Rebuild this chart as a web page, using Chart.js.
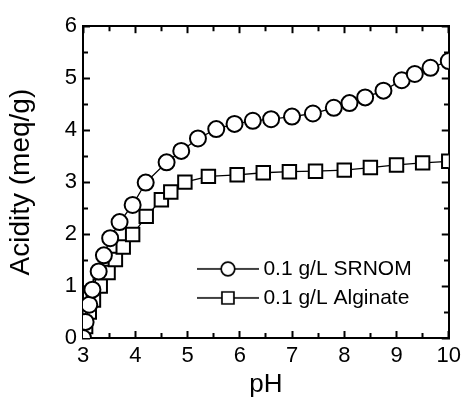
<!DOCTYPE html>
<html>
<head>
<meta charset="utf-8">
<script src="https://cdn.jsdelivr.net/npm/chart.js@4.4.1/dist/chart.umd.min.js"></script>
<style>
  html, body { margin: 0; padding: 0; background: #fff; }
  #wrap { width: 473px; height: 400px; }
</style>
</head>
<body>
<div id="wrap"><canvas id="acid"></canvas></div>
<script>
// SRNOM titration
var srnomPH   = [3.0, 3.05, 3.12, 3.18, 3.3, 3.4, 3.52, 3.7, 3.95, 4.2, 4.6, 4.88, 5.2, 5.55, 5.9, 6.25, 6.6, 7.0, 7.4, 7.8, 8.1, 8.4, 8.75, 9.1, 9.35, 9.65, 10.0];
var srnomAcid = [0, 0.31, 0.64, 0.93, 1.28, 1.59, 1.92, 2.23, 2.56, 2.99, 3.38, 3.60, 3.84, 4.02, 4.12, 4.18, 4.21, 4.26, 4.32, 4.43, 4.52, 4.63, 4.76, 4.96, 5.08, 5.20, 5.33];

// Alginate titration
var algPH   = [3.0, 3.05, 3.12, 3.2, 3.33, 3.48, 3.62, 3.77, 3.95, 4.21, 4.5, 4.68, 4.95, 5.4, 5.95, 6.45, 6.95, 7.45, 8.0, 8.5, 9.0, 9.5, 10.0];
var algAcid = [0.02, 0.22, 0.5, 0.73, 1.0, 1.26, 1.51, 1.75, 1.99, 2.34, 2.66, 2.81, 3.0, 3.11, 3.14, 3.18, 3.20, 3.21, 3.23, 3.28, 3.33, 3.37, 3.40];

var seriesNames = ['0.1 g/L SRNOM', '0.1 g/L Alginate'];
var xRange = [3, 10];
var yRange = [0, 6];
var legendAt = [5.18, 1.33]; // pH, acidity where legend line starts

var FONT = "'Liberation Sans', Arial, Helvetica, sans-serif";

function toPoints(xs, ys) {
    let out = [];
    for(let i=0; i<xs.length; i++) {
        out.push({x: xs[i], y: ys[i]});
    }
    return out;
}

function legendIcon(style) {
    let c = document.createElement('canvas');
    c.width = 62; c.height = 20;
    let g = c.getContext('2d');
    g.strokeStyle = '#000';
    g.lineWidth = 1.3;
    g.beginPath(); g.moveTo(0, 10); g.lineTo(62, 10); g.stroke();
    g.fillStyle = '#fff';
    g.lineWidth = 1.7;
    g.beginPath();
    if(style == 'circle') {
        g.arc(31, 10, 6.8, 0, Math.PI*2);
    }
    else {
        g.rect(25, 4, 12, 12);
    }
    g.fill(); g.stroke();
    return c;
}

var icons = [legendIcon('circle'), legendIcon('rect')];

// minor ticks are drawn shorter with a dash on the tick line
function minorDash(ctx, fromBorder) {
    if(ctx.tick && Math.abs(ctx.tick.value % 1) > 1e-9) {
        return fromBorder ? [6, 30] : [0, 2, 6, 30];
    }
    return [];
}

function axisGrid(fromBorder) {
    return {
        drawOnChartArea: false,
        drawTicks: true,
        tickLength: -7,
        tickWidth: 2,
        tickColor: '#000',
        tickBorderDash: (ctx) => minorDash(ctx, fromBorder)
    };
}

var border = { display: true, color: '#000', width: 2 };

var legendPlace = {
    id: 'legendPlace',
    afterLayout(chart) {
        let lg = chart.legend;
        let pad = lg.options.labels.padding;
        lg.left = chart.scales.x.getPixelForValue(legendAt[0]) + 6 - pad;
        lg.top = chart.scales.y.getPixelForValue(legendAt[1]) - 10.5 - pad;
        lg.right = chart.chartArea.right - 2;
        lg.bottom = chart.chartArea.bottom - 2;
        lg.width = lg.right - lg.left;
        lg.height = lg.bottom - lg.top;
    }
};

var ctx = document.getElementById('acid').getContext('2d');
var chart = new Chart(ctx, {
    type: 'line',
    data: {
        datasets: [
            {
                label: seriesNames[0],
                data: toPoints(srnomPH, srnomAcid),
                borderColor: '#000',
                borderWidth: 1.3,
                pointStyle: 'circle',
                pointRadius: 8,
                pointBorderWidth: 2,
                pointBackgroundColor: '#fff',
                pointBorderColor: '#000',
                tension: 0
            },
            {
                label: seriesNames[1],
                data: toPoints(algPH, algAcid),
                borderColor: '#000',
                borderWidth: 1.3,
                pointStyle: 'rect',
                pointRadius: 9.5,
                pointBorderWidth: 2,
                pointBackgroundColor: '#fff',
                pointBorderColor: '#000',
                tension: 0
            }
        ]
    },
    options: {
        responsive: true,
        maintainAspectRatio: false,
        animation: false,
        devicePixelRatio: 1,
        layout: { padding: { top: 21, right: 14, left: 0, bottom: 0 } },
        plugins: {
            tooltip: { enabled: false },
            legend: {
                position: 'chartArea',
                align: 'start',
                labels: {
                    usePointStyle: true,
                    pointStyleWidth: 50,
                    padding: 8,
                    color: '#000',
                    font: { family: FONT, size: 21 },
                    generateLabels: (chart) => {
                        let items = Chart.defaults.plugins.legend.labels.generateLabels(chart);
                        items.forEach((it, i) => { it.pointStyle = icons[i]; });
                        return items;
                    }
                }
            }
        },
        scales: {
            x: {
                type: 'linear',
                position: 'bottom',
                min: xRange[0], max: xRange[1],
                border: border,
                grid: axisGrid(true),
                ticks: {
                    stepSize: 0.5,
                    autoSkip: false,
                    maxRotation: 0,
                    padding: 12,
                    color: '#000',
                    font: { family: FONT, size: 22 },
                    callback: (v) => Number.isInteger(v) ? v : ''
                },
                title: {
                    display: true,
                    text: 'pH',
                    color: '#000',
                    font: { family: FONT, size: 26 },
                    padding: 0
                },
                afterFit: (s) => { s.height = 62; }
            },
            x2: {
                type: 'linear',
                position: 'top',
                min: xRange[0], max: xRange[1],
                border: border,
                grid: axisGrid(false),
                ticks: { stepSize: 0.5, autoSkip: false, display: false },
                afterFit: (s) => { s.height = 0; }
            },
            y: {
                type: 'linear',
                position: 'left',
                min: yRange[0], max: yRange[1],
                border: border,
                grid: axisGrid(false),
                ticks: {
                    stepSize: 0.5,
                    autoSkip: false,
                    padding: 13,
                    color: '#000',
                    font: { family: FONT, size: 22 },
                    callback: (v) => Number.isInteger(v) ? v : ''
                },
                title: {
                    display: true,
                    text: 'Acidity (meq/g)',
                    color: '#000',
                    font: { family: FONT, size: 28 },
                    padding: { top: 4, bottom: 0 }
                },
                afterFit: (s) => { s.width = 83; }
            },
            y2: {
                type: 'linear',
                position: 'right',
                min: yRange[0], max: yRange[1],
                border: border,
                grid: axisGrid(true),
                ticks: { stepSize: 0.5, autoSkip: false, display: false },
                afterFit: (s) => { s.width = 0; }
            }
        }
    },
    plugins: [legendPlace]
});
</script>
</body>
</html>
